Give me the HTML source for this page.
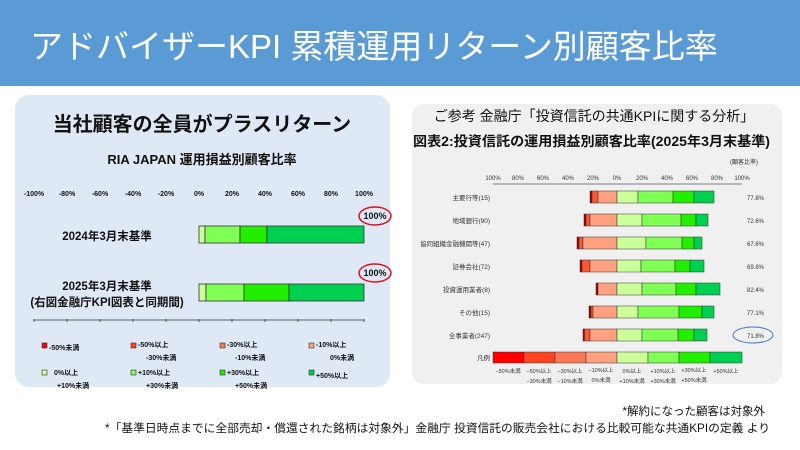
<!DOCTYPE html>
<html><head><meta charset="utf-8"><style>
html,body{margin:0;padding:0;width:800px;height:450px;overflow:hidden;background:#fff}
svg{display:block;font-family:"Liberation Sans","Noto Sans CJK JP",sans-serif}
</style></head><body>
<svg width="800" height="450" viewBox="0 0 800 450" xmlns="http://www.w3.org/2000/svg">
<rect x="0" y="0" width="800" height="86" fill="#5b9bd5"/>
<text x="30" y="58" font-size="33" fill="#fff">アドバイザーKPI 累積運用リターン別顧客比率</text>

<rect x="15" y="95" width="375" height="292" rx="14" fill="#dfe9f5"/>
<text x="202" y="131" font-size="20" font-weight="bold" text-anchor="middle" fill="#111">当社顧客の全員がプラスリターン</text>
<text x="202" y="164" font-size="13" font-weight="bold" text-anchor="middle" fill="#111">RIA JAPAN 運用損益別顧客比率</text>
<g font-size="7" font-weight="bold" text-anchor="middle" fill="#111">
<text x="34" y="196">-100%</text><text x="67" y="196">-80%</text><text x="100" y="196">-60%</text><text x="133" y="196">-40%</text><text x="166" y="196">-20%</text><text x="199" y="196">0%</text><text x="232" y="196">20%</text><text x="265" y="196">40%</text><text x="298" y="196">60%</text><text x="331" y="196">80%</text><text x="364" y="196">100%</text>
</g>
<g stroke="#333" stroke-width="0.8">
<rect x="199" y="226" width="6" height="17" fill="#ccff99"/><rect x="205" y="226" width="35" height="17" fill="#80ff55"/><rect x="240" y="226" width="27" height="17" fill="#22ee00"/><rect x="267" y="226" width="97" height="17" fill="#00d050"/>
<rect x="199" y="284" width="7" height="17" fill="#ccff99"/><rect x="206" y="284" width="38" height="17" fill="#80ff55"/><rect x="244" y="284" width="45" height="17" fill="#22ee00"/><rect x="289" y="284" width="75" height="17" fill="#00d050"/>
</g>
<g fill="none" stroke="#e0101a" stroke-width="1.5"><ellipse cx="375" cy="216" rx="16" ry="9"/><ellipse cx="375" cy="273" rx="16" ry="9"/></g>
<g font-size="9" font-weight="bold" text-anchor="middle" fill="#111"><text x="375" y="219">100%</text><text x="375" y="276">100%</text></g>
<g font-size="11.5" font-weight="bold" text-anchor="middle" fill="#111">
<text x="107" y="240">2024年3月末基準</text>
<text x="107" y="290">2025年3月末基準</text>
<text x="107" y="306">(右図金融庁KPI図表と同期間)</text>
</g>
<g stroke="#333" stroke-width="0.8"><line x1="34" y1="320" x2="364" y2="320"/>
<line x1="34" y1="319" x2="34" y2="322"/><line x1="67" y1="319" x2="67" y2="322"/><line x1="100" y1="319" x2="100" y2="322"/><line x1="133" y1="319" x2="133" y2="322"/><line x1="166" y1="319" x2="166" y2="322"/><line x1="199" y1="319" x2="199" y2="322"/><line x1="232" y1="319" x2="232" y2="322"/><line x1="265" y1="319" x2="265" y2="322"/><line x1="298" y1="319" x2="298" y2="322"/><line x1="331" y1="319" x2="331" y2="322"/><line x1="364" y1="319" x2="364" y2="322"/></g>
<g stroke="#333" stroke-width="0.6">
<rect x="42" y="343" width="5" height="5" fill="#ff0000"/><rect x="131" y="343" width="5" height="5" fill="#ff4422"/><rect x="220" y="343" width="5" height="5" fill="#ff7755"/><rect x="309" y="343" width="5" height="5" fill="#ffa080"/>
<rect x="42" y="370" width="5" height="5" fill="#ccff99"/><rect x="131" y="370" width="5" height="5" fill="#80ff55"/><rect x="220" y="370" width="5" height="5" fill="#22ee00"/><rect x="309" y="370" width="5" height="5" fill="#00d050"/>
</g>
<g font-size="7" font-weight="bold" fill="#111">
<text x="49" y="350">-50%未満</text><text x="138" y="347">-50%以上</text><text x="146" y="360">-30%未満</text><text x="227" y="347">-30%以上</text><text x="235" y="360">-10%未満</text><text x="316" y="347">-10%以上</text><text x="330" y="360">0%未満</text>
<text x="54" y="375">0%以上</text><text x="57" y="388">+10%未満</text><text x="138" y="375">+10%以上</text><text x="146" y="388">+30%未満</text><text x="227" y="375">+30%以上</text><text x="235" y="388">+50%未満</text><text x="316" y="378">+50%以上</text>
</g>

<rect x="412" y="104" width="370" height="280" rx="12" fill="#f0f0f0"/>
<text x="594" y="121" font-size="14" text-anchor="middle" fill="#111">ご参考 金融庁「投資信託の共通KPIに関する分析」</text>
<text x="413" y="146" font-size="13.5" font-weight="bold" fill="#111" textLength="357" lengthAdjust="spacingAndGlyphs">図表2:投資信託の運用損益別顧客比率(2025年3月末基準)</text>
<text x="730" y="164" font-size="6" fill="#333">(顧客比率)</text>
<g font-size="6" text-anchor="middle" fill="#333">
<text x="493" y="180">100%</text><text x="518" y="180">80%</text><text x="543" y="180">60%</text><text x="568" y="180">40%</text><text x="593" y="180">20%</text><text x="617" y="180">0%</text><text x="642" y="180">20%</text><text x="667" y="180">40%</text><text x="692" y="180">60%</text><text x="717" y="180">80%</text><text x="742" y="180">100%</text>
</g>
<line x1="493" y1="184" x2="742" y2="184" stroke="#555" stroke-width="0.8"/>
<g font-size="6.5" text-anchor="end" fill="#333">
<text x="490" y="200">主要行等(15)</text><text x="490" y="223">地域銀行(90)</text><text x="490" y="246">協同組織金融機関等(47)</text><text x="490" y="269">証券会社(72)</text><text x="490" y="292">投資運用業者(8)</text><text x="490" y="315">その他(15)</text><text x="490" y="338">全事業者(247)</text><text x="490" y="360">凡例</text>
</g>
<g font-size="6" fill="#333">
<text x="747" y="200">77.8%</text><text x="747" y="223">72.6%</text><text x="747" y="246">67.6%</text><text x="747" y="269">69.8%</text><text x="747" y="292">82.4%</text><text x="747" y="315">77.1%</text><text x="747" y="338">71.8%</text>
</g>
<ellipse cx="753" cy="335" rx="20" ry="8" fill="none" stroke="#3b78c8" stroke-width="1"/>
<g stroke="#333" stroke-width="0.5">
<rect x="590" y="191" width="2" height="12" fill="#a00000"/><rect x="592" y="191" width="6" height="12" fill="#ff5533"/><rect x="598" y="191" width="19" height="12" fill="#ffa080"/><rect x="617" y="191" width="21" height="12" fill="#ccff99"/><rect x="638" y="191" width="35" height="12" fill="#80ff55"/><rect x="673" y="191" width="21" height="12" fill="#22ee00"/><rect x="694" y="191" width="20" height="12" fill="#00d050"/>
<rect x="584" y="214" width="2" height="12" fill="#a00000"/><rect x="586" y="214" width="4" height="12" fill="#ff5533"/><rect x="590" y="214" width="27" height="12" fill="#ffa080"/><rect x="617" y="214" width="25" height="12" fill="#ccff99"/><rect x="642" y="214" width="39" height="12" fill="#80ff55"/><rect x="681" y="214" width="15" height="12" fill="#22ee00"/><rect x="696" y="214" width="12" height="12" fill="#00d050"/>
<rect x="577" y="237" width="2" height="12" fill="#a00000"/><rect x="579" y="237" width="4" height="12" fill="#ff5533"/><rect x="583" y="237" width="34" height="12" fill="#ffa080"/><rect x="617" y="237" width="29" height="12" fill="#ccff99"/><rect x="646" y="237" width="36" height="12" fill="#80ff55"/><rect x="682" y="237" width="12" height="12" fill="#22ee00"/><rect x="694" y="237" width="8" height="12" fill="#00d050"/>
<rect x="580" y="260" width="2" height="12" fill="#a00000"/><rect x="582" y="260" width="8" height="12" fill="#ff5533"/><rect x="590" y="260" width="27" height="12" fill="#ffa080"/><rect x="617" y="260" width="24" height="12" fill="#ccff99"/><rect x="641" y="260" width="34" height="12" fill="#80ff55"/><rect x="675" y="260" width="15" height="12" fill="#22ee00"/><rect x="690" y="260" width="14" height="12" fill="#00d050"/>
<rect x="596" y="283" width="2" height="12" fill="#a00000"/><rect x="598" y="283" width="19" height="12" fill="#ffa080"/><rect x="617" y="283" width="25" height="12" fill="#ccff99"/><rect x="642" y="283" width="34" height="12" fill="#80ff55"/><rect x="676" y="283" width="20" height="12" fill="#22ee00"/><rect x="696" y="283" width="24" height="12" fill="#00d050"/>
<rect x="589" y="306" width="2" height="12" fill="#a00000"/><rect x="591" y="306" width="2" height="12" fill="#ff5533"/><rect x="593" y="306" width="24" height="12" fill="#ffa080"/><rect x="617" y="306" width="21" height="12" fill="#ccff99"/><rect x="638" y="306" width="41" height="12" fill="#80ff55"/><rect x="679" y="306" width="23" height="12" fill="#22ee00"/><rect x="702" y="306" width="12" height="12" fill="#00d050"/>
<rect x="583" y="329" width="1.5" height="12" fill="#a00000"/><rect x="584.5" y="329" width="5.5" height="12" fill="#ff5533"/><rect x="590" y="329" width="27" height="12" fill="#ffa080"/><rect x="617" y="329" width="25" height="12" fill="#ccff99"/><rect x="642" y="329" width="36" height="12" fill="#80ff55"/><rect x="678" y="329" width="16" height="12" fill="#22ee00"/><rect x="694" y="329" width="13" height="12" fill="#00d050"/>
<rect x="493" y="352" width="31" height="11" fill="#ff0000"/><rect x="524" y="352" width="31" height="11" fill="#ff4422"/><rect x="555" y="352" width="31" height="11" fill="#ff7755"/><rect x="586" y="352" width="31" height="11" fill="#ffa080"/><rect x="617" y="352" width="31" height="11" fill="#ccff99"/><rect x="648" y="352" width="31" height="11" fill="#80ff55"/><rect x="679" y="352" width="31" height="11" fill="#22ee00"/><rect x="710" y="352" width="32" height="11" fill="#00d050"/>
</g>
<g font-size="5.5" text-anchor="middle" fill="#333">
<text x="508" y="373">−50%未満</text><text x="539" y="373">−50%以上</text><text x="539" y="383">−30%未満</text><text x="570" y="373">−30%以上</text><text x="570" y="383">−10%未満</text><text x="601" y="372">−10%以上</text><text x="601" y="382">0%未満</text>
<text x="632" y="373">0%以上</text><text x="632" y="383">+10%未満</text><text x="663" y="373">+10%以上</text><text x="663" y="383">+30%未満</text><text x="694" y="372">+30%以上</text><text x="694" y="382">+50%未満</text><text x="726" y="373">+50%以上</text>
</g>

<text x="765" y="415" font-size="11.5" text-anchor="end" fill="#111">*解約になった顧客は対象外</text>
<text x="770" y="432" font-size="11.5" text-anchor="end" fill="#111" textLength="665" lengthAdjust="spacingAndGlyphs">*「基準日時点までに全部売却・償還された銘柄は対象外」金融庁 投資信託の販売会社における比較可能な共通KPIの定義 より</text>
</svg>
</body></html>
